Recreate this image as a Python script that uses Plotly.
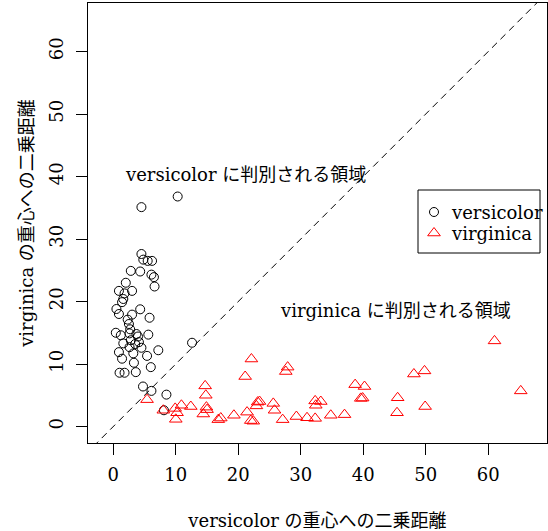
import plotly.graph_objects as go

# versicolor: (distance to versicolor centroid, distance to virginica centroid)
versicolor_x = [10.3, 4.5, 4.5, 4.8, 5.5, 6.2, 2.8, 4.3, 6.1, 6.5, 2.0, 6.6, 0.9, 3.0,
                1.8, 1.6, 1.4, 0.5, 0.9, 4.3, 3.0, 5.8, 2.3, 2.5, 2.7, 0.4, 1.2, 2.6,
                3.7, 3.95, 5.6, 2.8, 1.6, 4.1, 3.5, 2.6, 4.5, 7.2, 12.6, 0.9, 3.2, 5.4,
                1.4, 3.3, 6.0, 1.0, 1.8, 3.6, 4.75, 6.1, 8.5, 8.1]
versicolor_y = [36.8, 35.1, 27.6, 26.7, 26.5, 26.5, 24.9, 24.8, 24.3, 23.9, 23.0, 22.4, 21.7, 21.7,
                21.3, 20.4, 19.9, 18.8, 18.0, 18.75, 17.9, 17.4, 17.1, 16.4, 15.55, 15.0, 14.6, 14.9,
                14.8, 14.4, 14.7, 13.8, 13.3, 13.5, 13.2, 12.7, 12.6, 12.2, 13.4, 11.9, 11.7, 11.3,
                10.85, 10.2, 9.5, 8.6, 8.6, 8.7, 6.4, 5.7, 5.1, 2.6]

virginica_x = [5.4, 8.0, 9.9, 10.2, 10.0, 10.9, 12.4, 14.7, 14.8, 14.9, 15.0, 14.4, 16.8, 17.2,
               19.3, 21.1, 22.1, 21.4, 22.0, 22.4, 23.1, 23.4, 22.9, 25.6, 25.8, 27.1, 27.9, 27.6,
               29.3, 31.0, 32.3, 33.2, 32.4, 32.3, 34.8, 37.0, 38.7, 40.2, 39.6, 39.9, 45.5, 45.4,
               48.1, 49.8, 49.9, 61.0, 65.2]
virginica_y = [4.3, 2.6, 2.9, 2.2, 1.15, 3.4, 3.2, 6.5, 5.0, 3.1, 2.7, 2.0, 1.1, 1.35,
               1.8, 8.0, 10.8, 2.3, 0.95, 0.85, 3.9, 4.0, 3.3, 3.7, 2.6, 1.1, 9.5, 8.8,
               1.6, 1.4, 4.1, 4.0, 3.4, 1.3, 1.8, 1.9, 6.7, 6.4, 4.5, 4.55, 4.6, 2.2,
               8.4, 8.9, 3.2, 13.7, 5.7]

x_limits = [-4.05, 69.4]
y_limits = [-2.64, 67.76]
tick_vals = [0, 10, 20, 30, 40, 50, 60]
diag = [-10, 80]

series_names = ["versicolor", "virginica"]
series_colors = ["black", "red"]
series_symbols = ["circle-open", "triangle-up-open"]
series_sizes = [9, 11]

region_labels = [("versicolor に判別される領域", 21.1, 40.4),
                 ("virginica に判別される領域", 45.1, 18.5)]

FONT = "DejaVu Serif, Noto Sans CJK JP"
FS = 18
W, H = 548, 531
L, R, T, B = 88, 1, 3, 88
PW, PH = W - L - R, H - T - B


def px_x(p):
    return (p - L) / PW


def px_y(p):
    return (H - B - p) / PH


fig = go.Figure()
fig.add_trace(go.Scatter(x=diag, y=diag, mode="lines", showlegend=False,
                         line=dict(color="black", width=1, dash="7px,5px"),
                         hoverinfo="skip"))
series_data = [(versicolor_x, versicolor_y), (virginica_x, virginica_y)]
for (sx, sy), nm, col, sym, sz in zip(series_data, series_names, series_colors,
                                      series_symbols, series_sizes):
    fig.add_trace(go.Scatter(x=sx, y=sy, mode="markers", name=nm, showlegend=False,
                             marker=dict(symbol=sym, size=sz, color=col,
                                         line=dict(width=1, color=col))))

for txt, tx, ty in region_labels:
    fig.add_annotation(x=tx, y=ty, text=txt, showarrow=False,
                       font=dict(family=FONT, size=FS, color="black"))

# legend box drawn R-style
leg_left, leg_right, leg_top, leg_bottom = 418, 540, 190, 253
leg_rows = [212, 233]
fig.add_shape(type="rect", xref="paper", yref="paper",
              x0=px_x(leg_left), x1=px_x(leg_right), y0=px_y(leg_bottom), y1=px_y(leg_top),
              line=dict(color="black", width=1), fillcolor="rgba(0,0,0,0)", layer="above")
for nm, col, sym, sz, ry in zip(series_names, series_colors, series_symbols, series_sizes, leg_rows):
    fig.add_trace(go.Scatter(x=[px_x(434)], y=[px_y(ry)], xaxis="x2", yaxis="y2",
                             mode="markers", showlegend=False, hoverinfo="skip",
                             marker=dict(symbol=sym, size=sz, color=col,
                                         line=dict(width=1, color=col))))
    fig.add_annotation(xref="paper", yref="paper", x=px_x(449), y=px_y(ry), text=nm,
                       xanchor="left", yanchor="middle", showarrow=False,
                       font=dict(family=FONT, size=FS, color="black"))

axis_common = dict(showgrid=False, zeroline=False, showline=True, linecolor="black",
                   linewidth=1, mirror=True, ticks="outside", ticklen=11, tickwidth=1,
                   tickcolor="black", tickvals=tick_vals, automargin=False,
                   tickfont=dict(family=FONT, size=FS, color="black"))

fig.update_layout(
    width=W, height=H,
    margin=dict(l=L, r=R, t=T, b=B, autoexpand=False),
    paper_bgcolor="white", plot_bgcolor="white",
    font=dict(family=FONT, size=FS, color="black"),
    xaxis=dict(range=x_limits, **axis_common, ticklabelstandoff=4,
               title=dict(text="versicolor の重心への二乗距離", standoff=31,
                          font=dict(family=FONT, size=FS))),
    yaxis=dict(range=y_limits, **axis_common, tickangle=-90, ticklabelstandoff=6,
               title=dict(text="virginica の重心への二乗距離", standoff=7,
                          font=dict(family=FONT, size=FS))),
    xaxis2=dict(range=[0, 1], overlaying="x", visible=False),
    yaxis2=dict(range=[0, 1], overlaying="y", visible=False),
    showlegend=False,
)

fig.write_html("out.html", config={"displayModeBar": False},
               post_script="document.body.style.margin='0';document.body.style.padding='0';")
